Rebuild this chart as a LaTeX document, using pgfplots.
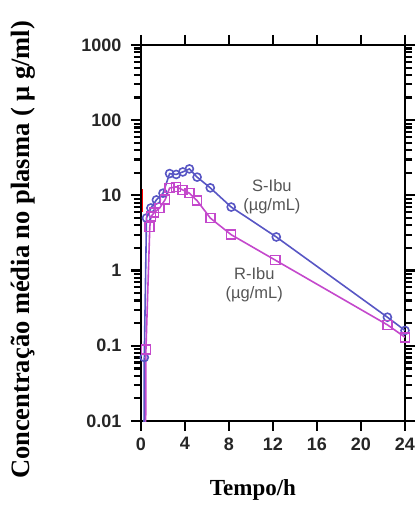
\documentclass[border=0pt]{standalone}
\usepackage{fontspec}
\setmainfont{Liberation Serif}
\newfontfamily\arialf{Liberation Sans}
\usepackage{pgfplots}
\pgfplotsset{compat=1.18}
\definecolor{sblue}{RGB}{88,86,196}
\definecolor{rmag}{RGB}{196,72,204}
\definecolor{annot}{RGB}{85,85,85}

\begin{document}
\begin{tikzpicture}
\path (-141pt,-85pt) rectangle (278pt,421pt);
\begin{axis}[
  at={(0,0)},
  x=11pt, y=32.66pt,
  ymode=log, xmin=0, xmax=24, ymin=0.01, ymax=1000,
  xtick={0,4,...,24},
  ytick={0.01,0.1,1,10,100,1000},
  yticklabels={0.01,0.1,1,10,100,1000},
  minor ytick={0.02,0.03,0.04,0.05,0.06,0.07,0.08,0.09,
               0.2,0.3,0.4,0.5,0.6,0.7,0.8,0.9,
               2,3,4,5,6,7,8,9,
               20,30,40,50,60,70,80,90,
               200,300,400,500,600,700,800,900},
  axis background/.style={draw=black, line width=2.8pt},
  tick align=outside,
  major tick length=10pt, minor tick length=7pt,
  every tick/.append style={draw=black, line width=2.2pt},
  /pgf/number format/assume math mode=true,
  ticklabel style={font=\arialf\bfseries\fontsize{18}{18}\selectfont, text=black!85},
  yticklabel style={xshift=-6pt},
  xticklabel style={yshift=-3pt},
  xlabel={Tempo/h},
  xlabel style={font=\bfseries\fontsize{23}{23}\selectfont, at={(axis description cs:0.424,-0.184)}, anchor=center},
  ylabel={Concentração média no plasma ( μ g/ml)},
  ylabel style={font=\bfseries\fontsize{26.5}{26.5}\selectfont, at={(axis description cs:-0.447,0.455)}, anchor=center},
]
% rise from zero at dosing
\addplot[sblue, line width=1.6pt, forget plot] coordinates {(0.25,0.001) (0.3,0.07)};
\addplot[rmag, line width=1.6pt, forget plot] coordinates {(0.4,0.001) (0.45,0.09)};
% small red trace near the axis
\addplot[red, line width=1.2pt, forget plot] coordinates {(0.15,6) (0.15,12)};

% S-Ibu
\addplot[sblue, line width=1.6pt, mark=o, mark size=4pt,
  mark options={fill=white, line width=1.6pt}] coordinates {
  (0.3,0.07) (0.5,5.0) (0.9,6.8) (1.4,8.7) (2.0,10.7) (2.6,19.5) (3.2,19.0)
  (3.8,20.5) (4.4,22.5) (5.1,17.5) (6.3,12.6) (8.2,7.0) (12.3,2.8)
  (22.4,0.24) (24,0.16)};
% R-Ibu
\addplot[rmag, line width=1.6pt, mark=square, mark size=4.5pt,
  mark options={fill=white, line width=1.6pt}] coordinates {
  (0.45,0.09) (0.8,3.8) (0.9,5.2) (1.2,5.9) (1.7,6.8) (2.2,8.8) (2.6,12.5)
  (3.2,13.0) (3.8,11.8) (4.4,10.7) (5.1,8.5) (6.3,5.0) (8.2,3.0)
  (12.2,1.38) (22.4,0.19) (24,0.13)};

\node[font=\arialf\fontsize{16.5}{19}\selectfont, text=annot, align=center]
  at (axis cs:11.9,9.6) {S-Ibu\\(µg/mL)};
\node[font=\arialf\fontsize{16.5}{19}\selectfont, text=annot, align=center]
  at (axis cs:10.3,0.64) {R-Ibu\\(µg/mL)};
\end{axis}
\end{tikzpicture}
\end{document}
